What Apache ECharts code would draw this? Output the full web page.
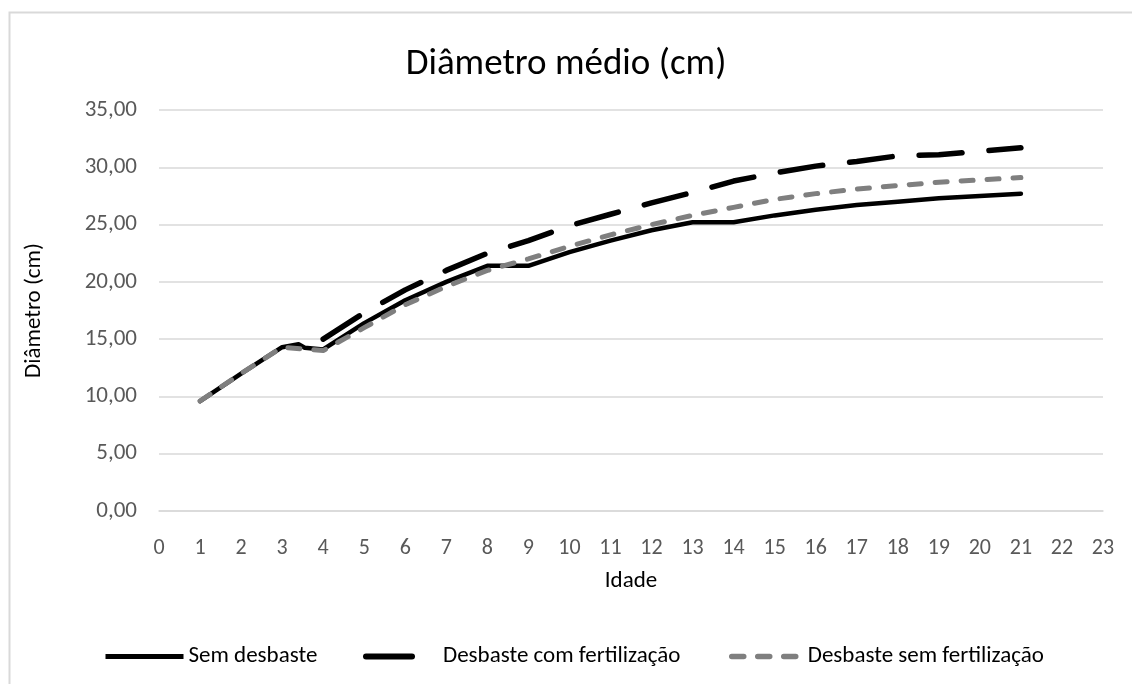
<!DOCTYPE html>
<html>
<head>
<meta charset="utf-8">
<script src="https://cdn.jsdelivr.net/npm/echarts@6/dist/echarts.min.js"></script>
<style>
html,body{margin:0;padding:0;background:#fff;}
#chart{width:1132px;height:684px;}
</style>
</head>
<body>
<div id="chart"></div>
<script>
const titleText = 'Diâmetro médio (cm)';
const seriesNames = ['Sem desbaste', 'Desbaste com fertilização', 'Desbaste sem fertilização'];
const xTicks = [0, 23, 1];
const yTicks = [0, 35, 5];

const semAges = [1, 2, 3, 3.4, 3.55, 4, 5, 6, 7, 8, 9, 10, 11, 12, 13, 14, 15, 16, 17, 18, 19, 20, 21];
const semVals = [9.6, 12.0, 14.3, 14.55, 14.25, 14.1, 16.4, 18.4, 20.0, 21.4, 21.4, 22.6, 23.6, 24.5, 25.2, 25.2, 25.8, 26.3, 26.7, 27.0, 27.3, 27.5, 27.7];

const comAges = [4, 5, 6, 7, 8, 9, 10, 11, 12, 13, 14, 15, 16, 17, 18, 19, 20, 21];
const comVals = [15.0, 17.3, 19.3, 21.0, 22.5, 23.6, 24.9, 25.9, 26.9, 27.8, 28.8, 29.5, 30.1, 30.5, 31.0, 31.1, 31.4, 31.7];

const semFertAges = [1, 2, 3, 4, 5, 6, 7, 8, 9, 10, 11, 12, 13, 14, 15, 16, 17, 18, 19, 20, 21];
const semFertVals = [9.6, 12.0, 14.3, 14.0, 16.0, 18.0, 19.6, 21.0, 22.0, 23.1, 24.1, 25.0, 25.8, 26.5, 27.2, 27.7, 28.1, 28.4, 28.7, 28.9, 29.1];

function pairs(a, v) { return a.map((x, i) => [x, v[i]]); }

const FONT = 'Carlito, Calibri, Lato, sans-serif';
const chart = echarts.init(document.getElementById('chart'), null, {renderer: 'canvas'});

const legendText = {fontFamily: FONT, fontSize: 23, color: '#000'};
const hiddenSymbol = {opacity: 0};

chart.setOption({
  backgroundColor: '#fff',
  animation: false,
  title: {
    text: titleText, left: 'center', top: 41,
    textStyle: {fontFamily: FONT, fontSize: 37, fontWeight: 'normal', color: '#000'}
  },
  graphic: [{
    type: 'rect', left: 7, top: 10, shape: {x: 0, y: 0, width: 1200, height: 800},
    style: {fill: 'none', stroke: '#d9d9d9', lineWidth: 2}, silent: true, z: -1
  }],
  legend: [
    {data: [seriesNames[0]], left: 103, top: 645, padding: 0, itemWidth: 78, itemHeight: 14, itemGap: 0,
     textStyle: legendText, itemStyle: hiddenSymbol,
     lineStyle: {width: 5, type: 'solid', cap: 'butt', color: '#000'}},
    {data: [seriesNames[1]], left: 363, top: 645, padding: 0, itemWidth: 46, itemHeight: 14, itemGap: 0,
     textStyle: Object.assign({padding: [0, 0, 0, 26]}, legendText), itemStyle: hiddenSymbol,
     lineStyle: {width: 6, type: 'solid', cap: 'round', color: '#000'}},
    {data: [seriesNames[2]], left: 729, top: 645, padding: 0, itemWidth: 71, itemHeight: 14, itemGap: 0,
     textStyle: legendText, itemStyle: hiddenSymbol,
     lineStyle: {width: 5.5, type: [12, 14], cap: 'round', color: '#7f7f7f'}}
  ],
  grid: {left: 159, right: 29, top: 110, bottom: 173, containLabel: false},
  xAxis: {
    type: 'value', min: xTicks[0], max: xTicks[1], interval: xTicks[2],
    name: 'Idade', nameLocation: 'middle', nameGap: 59,
    nameTextStyle: {fontFamily: FONT, fontSize: 23, color: '#000'},
    axisLine: {show: true, lineStyle: {color: '#d9d9d9', width: 1.5}},
    axisTick: {show: false},
    splitLine: {show: false},
    axisLabel: {fontFamily: FONT, fontSize: 22, color: '#595959', margin: 26}
  },
  yAxis: {
    type: 'value', min: yTicks[0], max: yTicks[1], interval: yTicks[2],
    name: 'Diâmetro (cm)', nameLocation: 'middle', nameGap: 113, nameRotate: 90,
    nameTextStyle: {fontFamily: FONT, fontSize: 23, color: '#000'},
    axisLine: {show: false}, axisTick: {show: false},
    splitLine: {show: true, lineStyle: {color: '#d9d9d9', width: 1.5}},
    axisLabel: {fontFamily: FONT, fontSize: 23, color: '#595959', margin: 22,
      formatter: v => v.toFixed(2).replace('.', ',')}
  },
  series: [
    {name: seriesNames[0], type: 'line', data: pairs(semAges, semVals), symbol: 'none', z: 3,
     itemStyle: {color: '#000'},
     lineStyle: {color: '#000', width: 4.5, type: 'solid', cap: 'round', join: 'round'}},
    {name: seriesNames[1], type: 'line', data: pairs(comAges, comVals), symbol: 'none', z: 4,
     itemStyle: {color: '#000'},
     lineStyle: {color: '#000', width: 5.5, type: [43, 27], cap: 'round', join: 'round'}},
    {name: seriesNames[2], type: 'line', data: pairs(semFertAges, semFertVals), symbol: 'none', z: 5,
     itemStyle: {color: '#7f7f7f'},
     lineStyle: {color: '#7f7f7f', width: 5, type: [12, 14], cap: 'round', join: 'round'}}
  ]
});
</script>
</body>
</html>
